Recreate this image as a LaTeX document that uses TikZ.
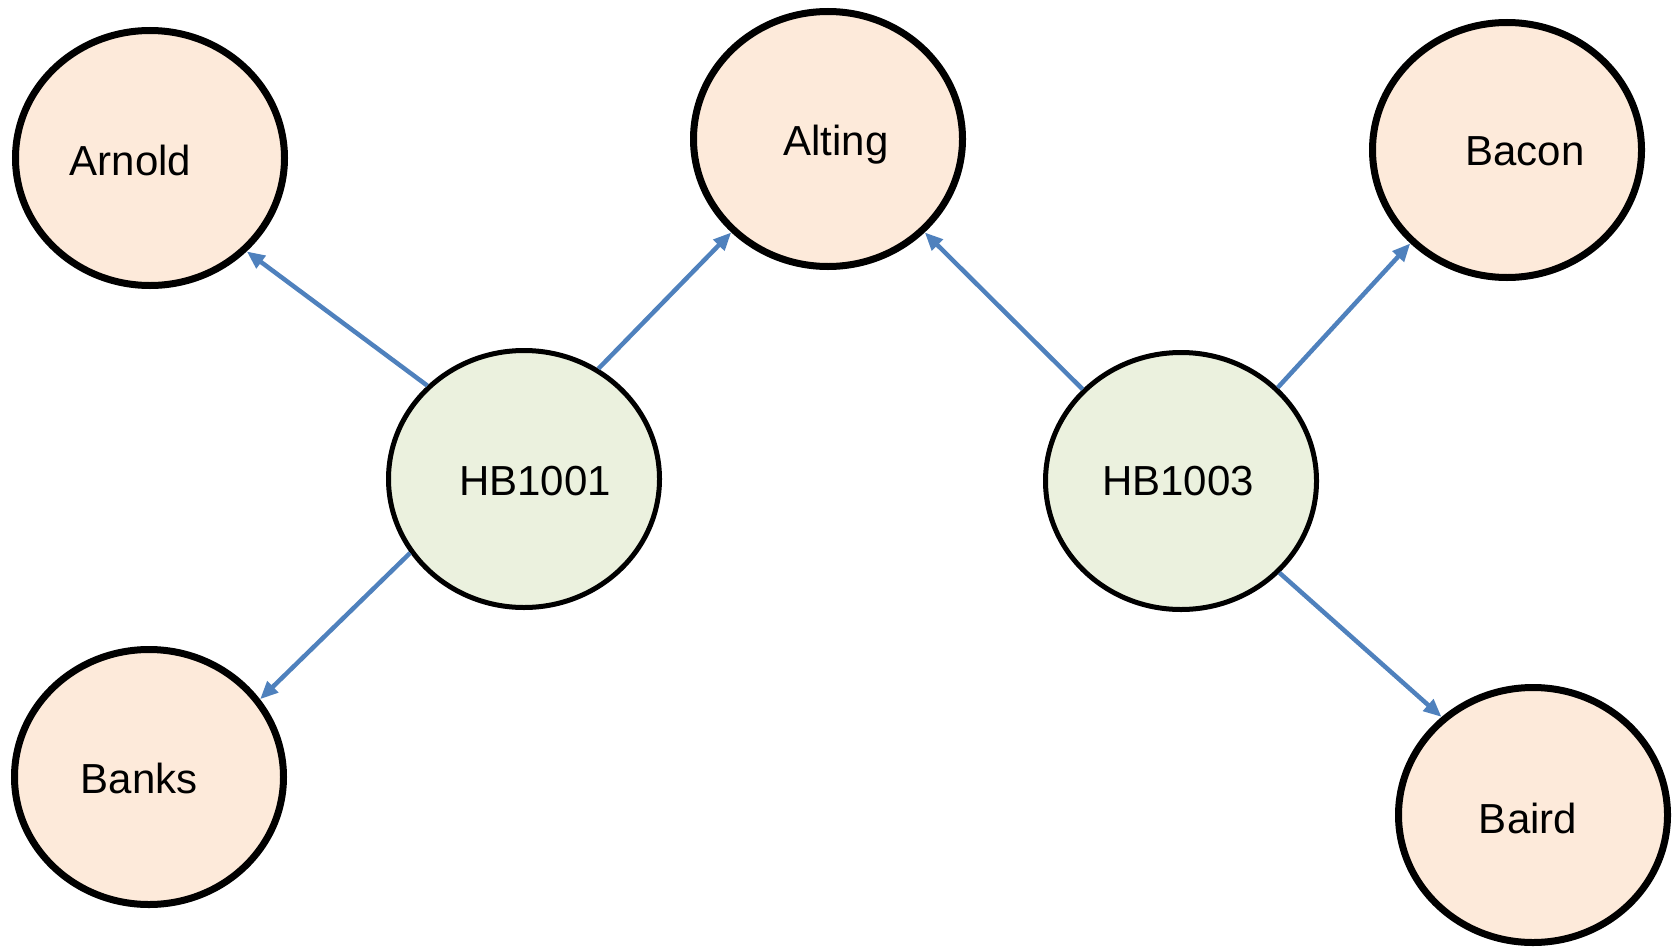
\documentclass[tikz,border=0pt]{standalone}
\usepackage{fontspec}
\setmainfont{Liberation Sans}
\usepackage{tikz}
\usetikzlibrary{shapes.geometric,arrows.meta,positioning}
\definecolor{personfill}{HTML}{FDEADA}
\definecolor{billfill}{HTML}{EBF1DE}
\definecolor{linkblue}{HTML}{4F81BD}
\tikzset{
person/.style={
  ellipse,
  draw=black,
  line width=7pt,
  fill=personfill,
  minimum width=269pt,
  minimum height=255pt
},
bill/.style={
  ellipse,
  draw=black,
  line width=5pt,
  fill=billfill,
  minimum width=271pt,
  minimum height=257pt
},
tag/.style={font=\fontsize{42}{50}\selectfont, inner sep=0pt, text height=30pt, text depth=0pt},
link/.style={draw=linkblue, line width=4.5pt, -{Triangle[length=18pt,width=15pt]}, fill=linkblue},
}

\begin{document}
\begin{tikzpicture}[x=1pt,y=-1pt]
            \useasboundingbox (0,0) rectangle (1677,950);
            \node (arnold) [person, label={[tag, xshift=-19.5pt, yshift=-2pt]center:Arnold}] at (150,158) {};
            \node (alting) [person, label={[tag, xshift=8pt, yshift=-1pt]center:Alting}] at (828,139) {};
            \node (bacon) [person, label={[tag, xshift=18pt, yshift=0pt]center:Bacon}] at (1507,150) {};
            \node (hb1001) [bill, label={[tag, xshift=11pt, yshift=-1pt]center:HB1001}] at (524,479) {};
            \node (hb1003) [bill, label={[tag, xshift=-3pt, yshift=1pt]center:HB1003}] at (1181,481) {};
            \node (banks) [person, label={[tag, xshift=-10pt, yshift=-1pt]center:Banks}] at (149,777) {};
            \node (baird) [person, label={[tag, xshift=-5pt, yshift=-3pt]center:Baird}] at (1533,815) {};

            \draw[link] (hb1001.136) -- (arnold.-44);
            \draw[link] (hb1001.56) -- (alting.224);
            \draw[link] (hb1001.213) -- (banks.35);
            \draw[link] (hb1003.137) -- (alting.-44);
            \draw[link] (hb1003.44) -- (bacon.224);
            \draw[link] (hb1003.-43) -- (baird.133);
        \end{tikzpicture}
\end{document}
